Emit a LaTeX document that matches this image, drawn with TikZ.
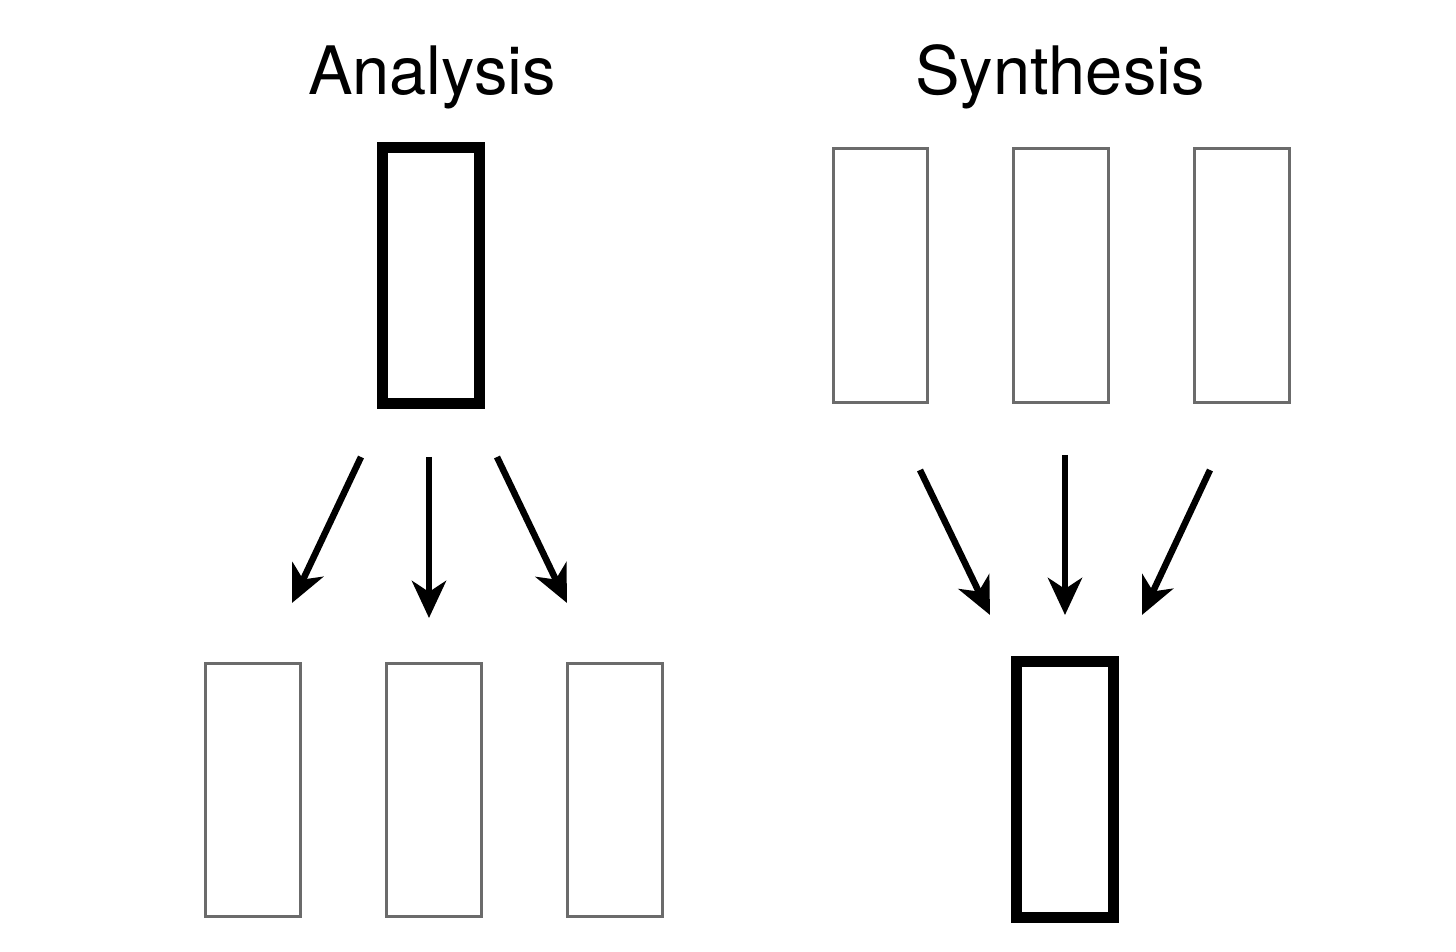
\documentclass[tikz,border=0pt]{standalone}
\usepackage{fontspec}
\setmainfont{TeX Gyre Heros}
\usetikzlibrary{arrows.meta}

\begin{document}
\begin{tikzpicture}[
    x=0.01cm, y=-0.01cm,
    % Define the style for the single whole (thick black frame)
    whole/.style={rectangle, draw=black, line width=3.1pt, inner sep=0pt,
        minimum width=0.97cm, minimum height=2.56cm},
    % Define the style for the parts (thin grey frame)
    part/.style={rectangle, draw=black!58, line width=0.85pt, inner sep=0pt,
        minimum width=0.94cm, minimum height=2.53cm},
    % Define the style for the arrows
    flow/.style={line width=1.85pt, -{Stealth[length=0.37cm, width=0.34cm, inset=0.11cm]}},
    % Font settings
    title/.style={anchor=base, font=\fontsize{19}{23}\selectfont}
]
    \useasboundingbox (0,0) rectangle (1456,952);

    % --- Figure 1: Analysis (one into three) ---
    \begin{scope}
        % Title
        \node[title] (anaTitle) at (432,95) {Analysis};

        % Whole and parts
        \node[whole] (anaWhole) at (431,275.5) {};
        \node[part] (anaPart1) at (253,790) {};
        \node[part] (anaPart2) at (434,790) {};
        \node[part] (anaPart3) at (615,790) {};

        % Arrow ends
        \coordinate (anaFrom1) at (361,457);
        \coordinate (anaFrom2) at (429,457);
        \coordinate (anaFrom3) at (497,457);
        \coordinate (anaTo1) at (292,603);
        \coordinate (anaTo2) at (429,618);
        \coordinate (anaTo3) at (567,603);

        % Arrows
        \draw[flow] (anaFrom1) -- (anaTo1);
        \draw[flow] (anaFrom2) -- (anaTo2);
        \draw[flow] (anaFrom3) -- (anaTo3);
    \end{scope}


    % --- Figure 2: Synthesis (three into one) ---
    \begin{scope}
        % Title
        \node[title] (synTitle) at (1060,95) {Synthesis};

        % Parts and whole
        \node[part] (synPart1) at (880.5,275.5) {};
        \node[part] (synPart2) at (1061,275.5) {};
        \node[part] (synPart3) at (1242,275.5) {};
        \node[whole] (synWhole) at (1065,789.5) {};

        % Arrow ends
        \coordinate (synFrom1) at (920,470);
        \coordinate (synFrom2) at (1065,455);
        \coordinate (synFrom3) at (1210,470);
        \coordinate (synTo1) at (990,615);
        \coordinate (synTo2) at (1065,615);
        \coordinate (synTo3) at (1142,615);

        % Arrows
        \draw[flow] (synFrom1) -- (synTo1);
        \draw[flow] (synFrom2) -- (synTo2);
        \draw[flow] (synFrom3) -- (synTo3);
    \end{scope}

\end{tikzpicture}
\end{document}
